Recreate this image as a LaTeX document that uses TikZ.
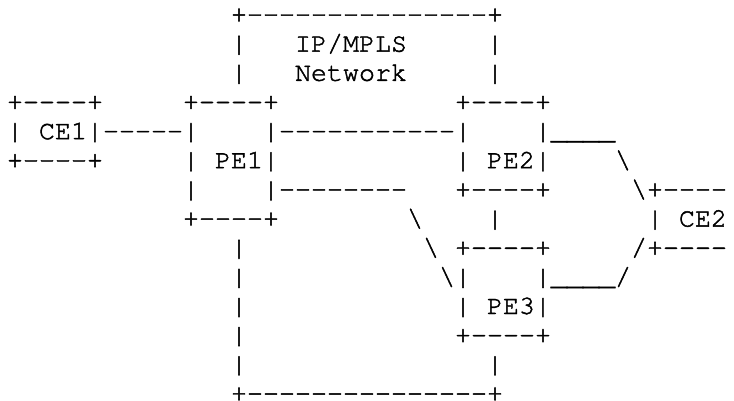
\documentclass[tikz,border=0pt]{standalone}
\usepackage[T1,TU]{fontenc}
\usepackage{tikz}

\newcommand{\dashrun}[1]{\foreach \k in {1,...,#1}{-}}
\newcommand{\lowrun}[1]{\foreach \k in {1,...,#1}{\textunderscore}}
\tikzset{
    ascii/.style={anchor=base west, inner sep=0pt, outer sep=0pt, text depth=0pt,
        font=\fontencoding{T1}\fontfamily{pcr}\fontsize{26.67pt}{29pt}\selectfont,
        execute at begin node={\special{pdf:literal direct 2 Tr 0.45 w}},
        execute at end node={\special{pdf:literal direct 0 Tr}}}
}

\begin{document}
\begin{tikzpicture}[x=16pt, y=-29.15pt]
            \useasboundingbox (-7pt,22.5pt) rectangle (727pt,-378.5pt);

            % IP/MPLS network
            \node[ascii] (nettop) at (14,0) {+\dashrun{15}+};
            \node[ascii] (netl1) at (14,1) {|};
            \node[ascii] (ipmpls) at (18,1) {IP/MPLS};
            \node[ascii] (netr1) at (30,1) {|};
            \node[ascii] (netl2) at (14,2) {|};
            \node[ascii] (network) at (18,2) {Network};
            \node[ascii] (netr2) at (30,2) {|};
            \node[ascii] (netl3) at (14,8) {|};
            \node[ascii] (netl4) at (14,9) {|};
            \node[ascii] (netl5) at (14,10) {|};
            \node[ascii] (netl6) at (14,11) {|};
            \node[ascii] (netl7) at (14,12) {|};
            \node[ascii] (netr3) at (30,12) {|};
            \node[ascii] (netbot) at (14,13) {+\dashrun{15}+};

            % CE1
            \node[ascii] (ce1top) at (0,3) {+\dashrun{4}+};
            \node[ascii] (ce1) at (0,4) {| CE1|};
            \node[ascii] (ce1bot) at (0,5) {+\dashrun{4}+};

            % PE1
            \node[ascii] (pe1top) at (11,3) {+\dashrun{4}+};
            \node[ascii] (pe1l1) at (11,4) {|};
            \node[ascii] (pe1r1) at (16,4) {|};
            \node[ascii] (pe1) at (11,5) {| PE1|};
            \node[ascii] (pe1l2) at (11,6) {|};
            \node[ascii] (pe1r2) at (16,6) {|};
            \node[ascii] (pe1bot) at (11,7) {+\dashrun{4}+};

            % PE2
            \node[ascii] (pe2top) at (28,3) {+\dashrun{4}+};
            \node[ascii] (pe2l1) at (28,4) {|};
            \node[ascii] (pe2r1) at (33,4) {|};
            \node[ascii] (pe2) at (28,5) {| PE2|};
            \node[ascii] (pe2bot) at (28,6) {+\dashrun{4}+};

            % PE3
            \node[ascii] (pe3top) at (28,8) {+\dashrun{4}+};
            \node[ascii] (pe3l1) at (28,9) {|};
            \node[ascii] (pe3r1) at (33,9) {|};
            \node[ascii] (pe3) at (28,10) {| PE3|};
            \node[ascii] (pe3bot) at (28,11) {+\dashrun{4}+};

            % CE2
            \node[ascii] (ce2top) at (40,6) {+\dashrun{4}};
            \node[ascii] (ce2) at (40,7) {| CE2};
            \node[ascii] (ce2bot) at (40,8) {+\dashrun{4}};

            % links
            \node[ascii] (ce1pe1) at (6,4) {\dashrun{5}};
            \node[ascii] (pe1pe2) at (17,4) {\dashrun{11}};
            \node[ascii] (pe1pe3a) at (17,6) {\dashrun{8}};
            \node[ascii] (pe1pe3b) at (25,7) {\textbackslash};
            \node[ascii] (pe1pe3c) at (26,8) {\textbackslash};
            \node[ascii] (pe1pe3d) at (27,9) {\textbackslash};
            \node[ascii] (pe2pe3) at (30,7) {|};
            \node[ascii] (pe2ce2a) at (34,4) {\lowrun{4}};
            \node[ascii] (pe2ce2b) at (38,5) {\textbackslash};
            \node[ascii] (pe2ce2c) at (39,6) {\textbackslash};
            \node[ascii] (pe3ce2a) at (34,9) {\lowrun{4}};
            \node[ascii] (pe3ce2b) at (38,9) {/};
            \node[ascii] (pe3ce2c) at (39,8) {/};
        \end{tikzpicture}
\end{document}
